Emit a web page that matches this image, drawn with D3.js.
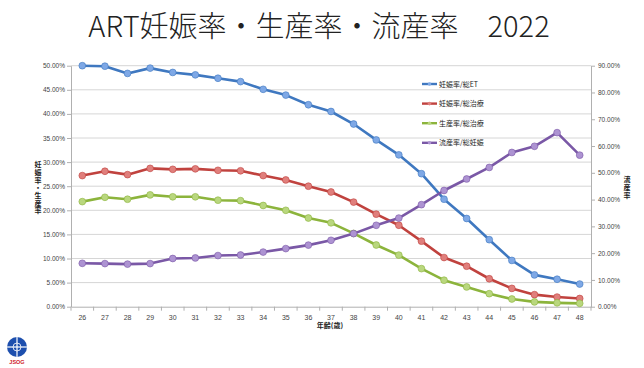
<!DOCTYPE html>
<html><head><meta charset="utf-8">
<script src="https://cdn.jsdelivr.net/npm/d3@7"></script>
<style>
html,body{margin:0;padding:0;background:#fff;}
svg{display:block;font-family:"Noto Sans CJK JP","Noto Sans",sans-serif;}
.vt{writing-mode:vertical-rl;text-orientation:upright;}
</style></head><body>
<svg id="c" width="644" height="368"></svg>
<script>
const ages = [26,27,28,29,30,31,32,33,34,35,36,37,38,39,40,41,42,43,44,45,46,47,48];
const pregPerET = [50.0,49.9,48.4,49.5,48.6,48.1,47.4,46.7,45.1,43.9,41.9,40.5,37.9,34.6,31.5,27.6,22.3,18.3,13.9,9.6,6.6,5.7,4.7];
const pregPerTx = [27.2,28.1,27.4,28.7,28.5,28.6,28.3,28.2,27.2,26.3,25.0,23.8,21.7,19.2,16.9,13.6,10.2,8.4,5.8,3.8,2.5,2.0,1.7];
const livePerTx = [21.8,22.7,22.3,23.2,22.8,22.8,22.1,22.0,21.0,20.0,18.4,17.4,15.2,12.8,10.7,7.9,5.5,4.1,2.7,1.6,1.0,0.8,0.7];
const miscPerPreg = [16.2,16.1,15.9,16.1,18.0,18.2,19.1,19.3,20.4,21.7,23.0,24.8,27.3,30.4,33.1,38.1,43.4,47.7,52.0,57.6,59.9,65.0,56.6];
const leftTicks = [0,5,10,15,20,25,30,35,40,45,50];
const rightTicks = [0,10,20,30,40,50,60,70,80,90];
const seriesNames = ["妊娠率/総ET","妊娠率/総治療","生産率/総治療","流産率/総妊娠"];
const seriesColors = ["#3f78c0","#c0423e","#8cb43c","#7a58a6"];
const markerColors = ["#7ea8e6","#e07f7c","#b9d77e","#ad93d2"];

const svg = d3.select("#c");
const L = 71, R = 591, T = 65.7, B = 306.7;
const x = d3.scaleBand().domain(ages).range([L,R]);
const yL = d3.scaleLinear().domain([0,50]).range([B,T]);
const yR = d3.scaleLinear().domain([0,90]).range([B,T]);

// title
svg.append("text").attr("x",319).attr("y",37).attr("text-anchor","middle")
  .attr("font-size",29).attr("font-weight",300).attr("fill","#222")
  .text("ART妊娠率・生産率・流産率　2022");

// gridlines
svg.append("g").selectAll("line").data(leftTicks.filter(d=>d>0)).join("line")
  .attr("x1",L).attr("x2",R).attr("y1",d=>yL(d)).attr("y2",d=>yL(d))
  .attr("stroke","#d6d6d6").attr("stroke-width",1);

const axisStyle = g => {
  g.select(".domain").attr("stroke","#b0b0b0");
  g.selectAll(".tick line").attr("stroke","#b0b0b0");
  g.selectAll(".tick text").attr("fill","#444").attr("font-size",6.5).attr("font-family","Liberation Sans, sans-serif");
};
svg.append("g").attr("transform",`translate(${L},0)`)
  .call(d3.axisLeft(yL).tickValues(leftTicks).tickFormat(d=>d.toFixed(2)+"%").tickSize(4).tickSizeOuter(0).tickPadding(2))
  .call(axisStyle);
svg.append("g").attr("transform",`translate(${R},0)`)
  .call(d3.axisRight(yR).tickValues(rightTicks).tickFormat(d=>d.toFixed(2)+"%").tickSize(4).tickSizeOuter(0).tickPadding(3))
  .call(axisStyle);
const xa = svg.append("g").attr("transform",`translate(0,${B})`)
  .call(d3.axisBottom(x).tickSize(0).tickPadding(8))
  .call(axisStyle);
xa.selectAll(".tick text").attr("font-size",7);
svg.append("g").selectAll("line").data(d3.range(ages.length+1)).join("line")
  .attr("x1",i=>L+i*x.step()).attr("x2",i=>L+i*x.step()).attr("y1",B).attr("y2",B+4)
  .attr("stroke","#b0b0b0");

// axis titles
svg.append("text").attr("x",330).attr("y",328).attr("text-anchor","middle")
  .attr("font-size",7).attr("font-weight",700).attr("fill","#222").text("年齢(歳)");
svg.append("text").attr("class","vt").attr("x",38).attr("y",161)
  .attr("font-size",7).attr("font-weight",700).attr("fill","#222").attr("letter-spacing",0.7)
  .text("妊娠率・生産率");
svg.append("text").attr("class","vt").attr("x",627).attr("y",176)
  .attr("font-size",7).attr("font-weight",700).attr("fill","#222").attr("letter-spacing",0.7)
  .text("流産率");

// series
const allSeries = [
  {vals:pregPerET, y:yL},
  {vals:pregPerTx, y:yL},
  {vals:livePerTx, y:yL},
  {vals:miscPerPreg, y:yR}
];
allSeries.forEach((s,si)=>{
  const pts = ages.map((a,i)=>[x(a)+x.bandwidth()/2, s.y(s.vals[i])]);
  svg.append("path").attr("d",d3.line()(pts)).attr("fill","none")
    .attr("stroke",seriesColors[si]).attr("stroke-width",2.6).attr("stroke-linejoin","round");
  svg.append("g").selectAll("circle").data(pts).join("circle")
    .attr("cx",d=>d[0]).attr("cy",d=>d[1]).attr("r",3.4)
    .attr("fill",markerColors[si]).attr("stroke",seriesColors[si]).attr("stroke-width",0.6);
});

// legend
const lg = svg.append("g");
seriesNames.forEach((n,i)=>{
  const yy = 84 + i*19.6;
  lg.append("line").attr("x1",422).attr("x2",437).attr("y1",yy).attr("y2",yy)
    .attr("stroke",seriesColors[i]).attr("stroke-width",2.4);
  lg.append("circle").attr("cx",429.5).attr("cy",yy).attr("r",1.8).attr("fill",markerColors[i]);
  lg.append("text").attr("x",439).attr("y",yy+2.5).attr("font-size",7).attr("fill","#222").text(n);
});

// logo
const logo = svg.append("g").attr("transform","translate(17,347)");
logo.append("circle").attr("r",10).attr("fill","#1d4fae");
logo.append("line").attr("x1",-10).attr("x2",10).attr("stroke","#fff").attr("stroke-width",1.2);
logo.append("line").attr("y1",-10).attr("y2",10).attr("stroke","#fff").attr("stroke-width",1.2);
logo.append("circle").attr("r",4).attr("fill","none").attr("stroke","#fff").attr("stroke-width",0.8);
svg.append("text").attr("x",17).attr("y",364).attr("text-anchor","middle")
  .attr("font-size",5.5).attr("font-weight",700).attr("fill","#d0202a").attr("font-family","Liberation Sans, sans-serif").text("JSOG");
</script>
</body></html>
